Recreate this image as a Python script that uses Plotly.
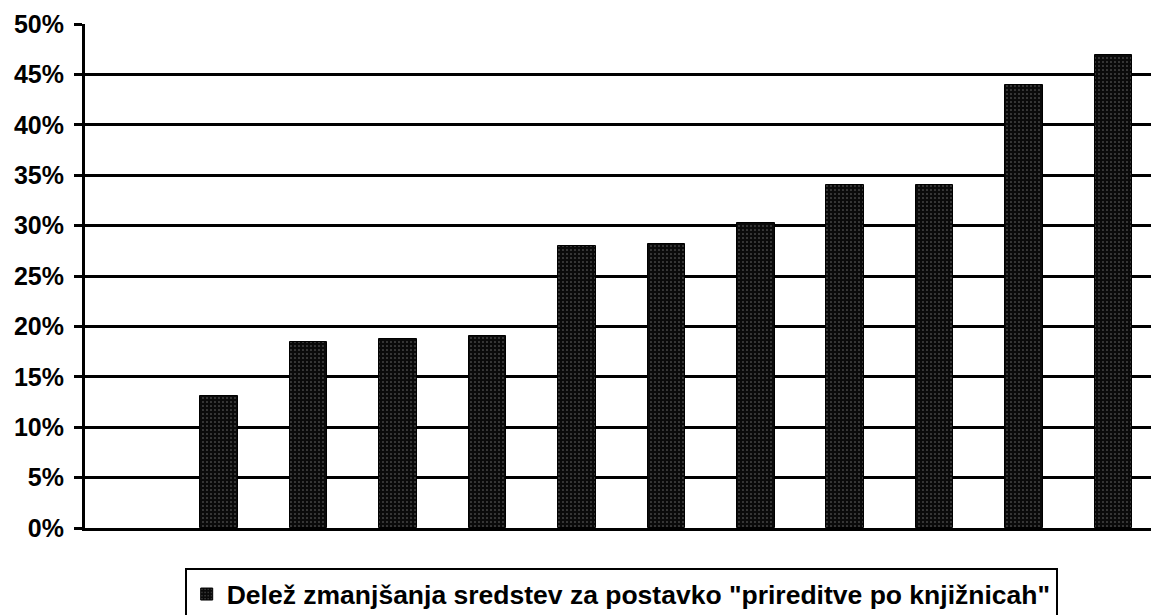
import plotly.graph_objects as go

categories = ["", "B", "C", "D", "E", "F", "G", "H", "I", "J", "K", "L"]
values = [None, 13.1, 18.45, 18.75, 19.05, 28.0, 28.2, 30.3, 34.0, 34.0, 43.9, 46.9]
series_name = 'Delež zmanjšanja sredstev za postavko "prireditve po knjižnicah"'
tick_vals = [0, 5, 10, 15, 20, 25, 30, 35, 40, 45, 50]
tick_text = [f"{v}%" for v in tick_vals]

FONT = "Liberation Sans, Arial, sans-serif"

fig = go.Figure()
fig.add_trace(go.Bar(
    x=list(range(len(categories))),
    y=values,
    name=series_name,
    width=0.42,
    marker=dict(
        color="#0a0a0a",
        line=dict(color="#000000", width=1),
        pattern=dict(shape=".", size=4, solidity=0.12, fgcolor="#707070", bgcolor="#0a0a0a", fillmode="replace"),
    ),
    showlegend=True,
))

fig.update_layout(
    width=1151, height=615,
    margin=dict(l=85, r=0, t=24, b=87, autoexpand=False),
    paper_bgcolor="white", plot_bgcolor="white",
    font=dict(family=FONT, color="black"),
    bargap=0,
    showlegend=True,
    legend=dict(
        orientation="h",
        x=0.503, xanchor="center", xref="paper",
        y=-0.08, yanchor="top",
        bordercolor="black", borderwidth=2,
        font=dict(family=FONT, size=26.5, color="black", weight="bold"),
        itemwidth=30,
    ),
    xaxis=dict(
        range=[-0.5, 11.42],
        showticklabels=False, ticks="",
        showgrid=False, zeroline=False,
        showline=True, linecolor="black", linewidth=3,
        tickvals=list(range(len(categories))),
    ),
    yaxis=dict(
        range=[0, 50],
        tickvals=tick_vals, ticktext=tick_text,
        ticks="outside", ticklen=8, tickwidth=3, tickcolor="black",
        showgrid=True, gridcolor="black", gridwidth=3,
        zeroline=False,
        showline=True, linecolor="black", linewidth=3,
        tickfont=dict(family=FONT, size=25, color="black", weight="bold"),
        ticklabelstandoff=5,
    ),
)

fig.write_html("out.html", post_script="document.body.style.margin='0';",
               config={"displayModeBar": False})
